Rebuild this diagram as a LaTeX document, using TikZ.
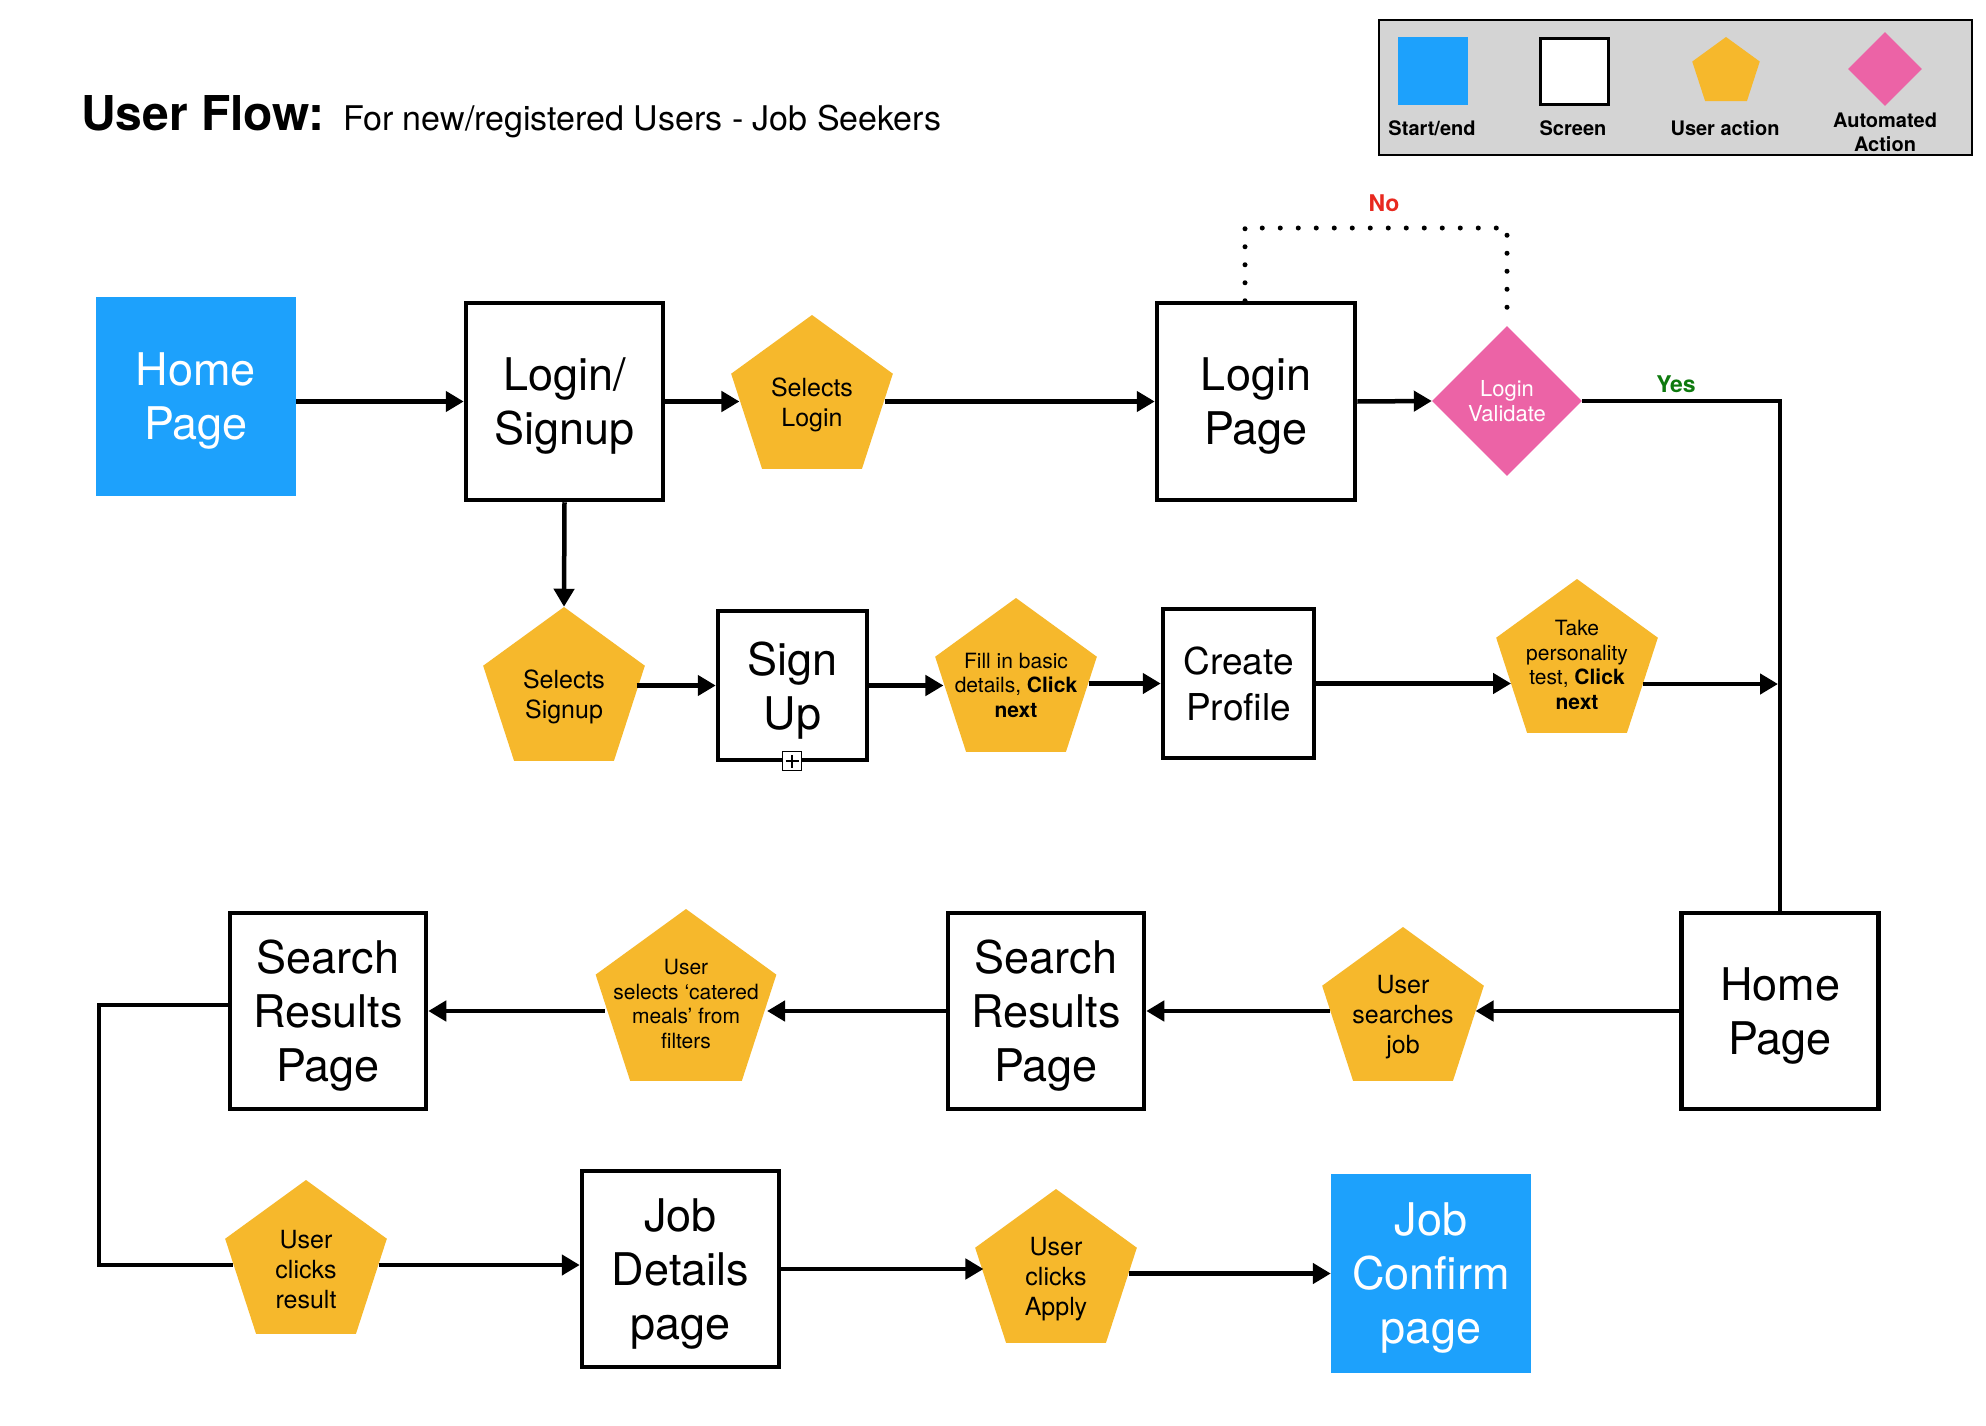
\documentclass[tikz,border=0pt]{standalone}
\usepackage{fontspec}
\setmainfont{TeX Gyre Heros}
\usetikzlibrary{arrows.meta,shapes.geometric,calc}

\definecolor{ufblue}{HTML}{1DA1FC}
\definecolor{uforange}{HTML}{F6B82C}
\definecolor{ufpink}{HTML}{EC63A6}
\definecolor{ufgray}{HTML}{D4D4D4}
\definecolor{nored}{HTML}{E8291F}
\definecolor{yesgreen}{HTML}{0E7A0E}

\tikzset{
  bigtxt/.style={font=\fontsize{45}{54}\selectfont, align=center, text depth=0pt},
  screen/.style={draw, line width=4.5pt, fill=white, inner sep=0pt, bigtxt},
  startend/.style={fill=ufblue, text=white, inner sep=0pt, bigtxt},
  useract/.style={regular polygon, regular polygon sides=5, fill=uforange,
                  inner sep=0pt, minimum size=170pt},
  acttxt/.style={font=\fontsize{25}{30}\selectfont, align=center, inner sep=0pt, yshift=-5pt},
  actsmall/.style={font=\fontsize{21}{24.5}\selectfont, align=center, inner sep=0pt, yshift=-2pt},
  decide/.style={diamond, fill=ufpink, inner sep=0pt,
                 minimum width=150pt, minimum height=150pt},
  decidetxt/.style={font=\fontsize{22}{25.5}\selectfont, align=center, text=white, inner sep=0pt},
  flow/.style={line width=4.5pt, -{Triangle[length=18pt,width=20pt]}},
  link/.style={line width=4.5pt},
  nopath/.style={line width=5pt, line cap=round, dash pattern=on 0pt off 18pt},
  legtxt/.style={font=\fontsize{20}{24}\selectfont\bfseries, align=center, inner sep=0pt},
}

\begin{document}
\begin{tikzpicture}[x=1pt, y=-1pt]
  % page
  \fill[white] (0,0) rectangle (1986,1426);
  \useasboundingbox (0,0) rectangle (1986,1426);

  % heading
  \node[anchor=base west, inner sep=0pt, font=\fontsize{48}{56}\selectfont\bfseries]
    (ttl) at (81,131) {User Flow:};
  \node[anchor=base west, inner sep=0pt, font=\fontsize{34}{40}\selectfont]
    (subttl) at (343,131) {For new/registered Users - Job Seekers};

  % legend
  \draw[fill=ufgray, line width=2.5pt] (1379,20) rectangle (1972,155);
  \node[fill=ufblue, minimum width=70pt, minimum height=68pt, inner sep=0pt] (lgse) at (1433,71) {};
  \node[draw, fill=white, line width=3pt, minimum width=68pt, minimum height=66pt, inner sep=0pt] (lgsc) at (1574.5,71.5) {};
  \node[useract, minimum size=71pt] (lgua) at (1726,72.5) {};
  \node[decide, minimum width=74pt, minimum height=74pt] (lgaa) at (1885,69) {};
  \node[legtxt] (lgset) at (1432,128) {Start/end};
  \node[legtxt] (lgsct) at (1573,128) {Screen};
  \node[legtxt] (lguat) at (1725,128) {User action};
  \node[legtxt] (lgaat) at (1885,132) {Automated\\Action};

  % row 1
  \node[startend, minimum width=200pt, minimum height=199pt] (hp1) at (196,396) {Home\\Page};
  \node[screen, minimum width=197pt, minimum height=197pt] (ls) at (564.5,401.5) {Login/\\Signup};
  \node[useract, label={[acttxt]center:{Selects\\Login}}] (sl) at (812,400) {};
  \node[screen, minimum width=198pt, minimum height=197pt] (lp) at (1256,401.5) {Login\\Page};
  \node[decide, label={[decidetxt]center:{Login\\Validate}}] (lv) at (1507,401) {};

  % row 2
  \node[useract, label={[acttxt]center:{Selects\\Signup}}] (ss) at (564,692) {};
  \node[screen, minimum width=149pt, minimum height=149pt] (su) at (792.5,685.5) {Sign\\Up};
  \node[draw, fill=white, line width=1.5pt, minimum size=19pt, inner sep=0pt] (plus) at (792,761) {};
  \draw[line width=1.5pt] ([xshift=-6.5pt]plus.center) -- ([xshift=6.5pt]plus.center);
  \draw[line width=1.5pt] ([yshift=-6.5pt]plus.center) -- ([yshift=6.5pt]plus.center);
  \node[useract, label={[actsmall]center:{Fill in basic\\details, \textbf{Click}\\\textbf{next}}}] (fd) at (1016,683) {};
  \node[screen, minimum width=151pt, minimum height=149pt,
        font=\fontsize{37}{46}\selectfont] (cp) at (1238.5,683.5) {Create\\Profile};
  \node[useract, label={[actsmall, yshift=1pt]center:{Take\\personality\\test, \textbf{Click}\\\textbf{next}}}] (tp) at (1577,664) {};
  \coordinate (join) at (1778,684);

  % row 3
  \node[screen, minimum width=197pt, minimum height=196pt] (hp2) at (1780,1011) {Home\\Page};
  \node[useract, label={[acttxt]center:{User\\searches\\job}}] (us) at (1403,1012) {};
  \node[screen, minimum width=196pt, minimum height=196pt] (srm) at (1046,1011) {Search\\Results\\Page};
  \node[useract, minimum size=190pt, label={[actsmall, yshift=2pt]center:{User\\selects ‘catered\\meals’ from\\filters}}] (cm) at (686,1004) {};
  \node[screen, minimum width=196pt, minimum height=196pt] (srl) at (328,1011) {Search\\Results\\Page};

  % row 4
  \node[useract, label={[acttxt]center:{User\\clicks\\result}}] (ucr) at (306,1265) {};
  \node[screen, minimum width=197pt, minimum height=196pt] (jd) at (680.5,1269) {Job\\Details\\page};
  \node[useract, label={[acttxt]center:{User\\clicks\\Apply}}] (uca) at (1056,1274) {};
  \node[startend, minimum width=200pt, minimum height=199pt] (jc) at (1431,1273.5) {Job\\Confirm\\page};
  \coordinate (lbend) at (99,1130);
  \coordinate (nobend) at (1380,228);

  % connectors, row 1
  \draw[flow] (hp1.east |- ls.west) -- (ls.west);
  \draw[flow] (ls.east) -- (ls.east -| sl.west);
  \draw[flow] (sl.east |- lp.west) -- (lp.west);
  \draw[flow] (lp.east) -- (lv.west);
  \draw[link] (lv.east) -| (hp2.north);
  \draw[nopath] ([xshift=-11pt]lp.north) |- (nobend) -| ([yshift=8pt]lv.north);
  \node[font=\fontsize{23}{27}\selectfont\bfseries, text=nored, inner sep=0pt] (nolbl) at (1384,203) {No};
  \node[font=\fontsize{23}{27}\selectfont\bfseries, text=yesgreen, inner sep=0pt] (yeslbl) at (1676,384) {Yes};

  % connectors, row 2
  \draw[flow] (ls.south) -- (ss.north);
  \draw[flow] (ss.east |- su.west) -- (su.west);
  \draw[flow] (su.east) -- (su.east -| fd.west);
  \draw[flow] (fd.east |- cp.west) -- (cp.west);
  \draw[flow] (cp.east) -- (cp.east -| tp.197);
  \draw[flow] (tp.-17 |- join) -- (join);

  % connectors, row 3
  \draw[flow] (hp2.west) -- (hp2.west -| us.east);
  \draw[flow] (us.west |- srm.east) -- (srm.east);
  \draw[flow] (srm.west) -- (srm.west -| cm.east);
  \draw[flow] (cm.west |- srl.east) -- (srl.east);
  \draw[link] ([yshift=6pt]srl.west) -| (lbend) |- (ucr.west);

  % connectors, row 4
  \draw[flow] (ucr.east) -- (ucr.east -| jd.west);
  \draw[flow] (jd.east) -- (jd.east -| uca.west);
  \draw[flow] (uca.east |- jc.west) -- (jc.west);
\end{tikzpicture}
\end{document}
